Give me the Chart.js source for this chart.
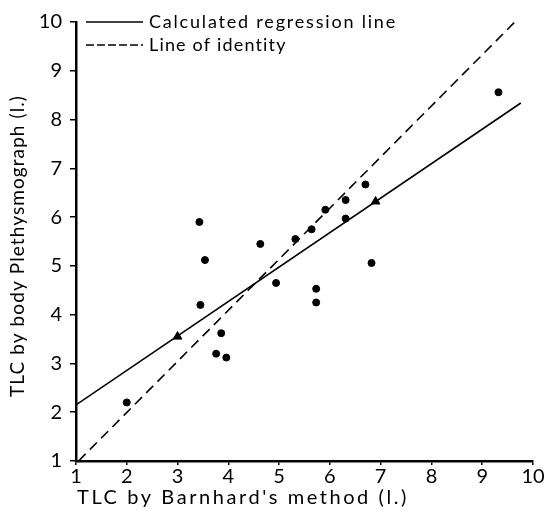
<!DOCTYPE html>
<html lang="en">
  <head>
    <meta charset="UTF-8" />
    <title>TLC comparison</title>
    <script src="https://cdn.jsdelivr.net/npm/chart.js@4.4.1/dist/chart.umd.min.js"></script>
    <style>
      body { margin: 0; background: #fff; }
      #wrap { width: 547px; height: 511px; }
    </style>
  </head>
  <body>
    <div id="wrap"><canvas id="tlcChart" width="547" height="511"></canvas></div>
    <script>
      // axis ticks
      const xTicks = [1, 2, 3, 4, 5, 6, 7, 8, 9, 10];
      const yTicks = [1, 2, 3, 4, 5, 6, 7, 8, 9, 10];

      // individual subjects (dots)
      const dotX = [2.0, 3.43, 3.54, 3.45, 3.86, 3.76, 3.96, 4.63, 4.94, 5.32, 5.64, 5.91, 6.31, 6.31, 6.70, 9.32, 6.82, 5.73, 5.73];
      const dotY = [2.2, 5.9, 5.12, 4.2, 3.62, 3.2, 3.12, 5.45, 4.65, 5.55, 5.75, 6.15, 6.35, 5.97, 6.67, 8.56, 5.06, 4.53, 4.25];

      // triangles
      const triX = [3.0, 6.9];
      const triY = [3.55, 6.32];

      // lines
      const regX = [1, 9.76];
      const regY = [2.15, 8.34];
      const idX = [1.05, 9.7];
      const idY = [1.0, 10.06];

      const labels = ['Calculated regression line', 'Line of identity'];
      const xTitle = "TLC by Barnhard's method (l.)";
      const yTitle = 'TLC by body Plethysmograph (l.)';

      const pts = (xs, ys) => xs.map((x, i) => ({ x: x, y: ys[i] }));
      const FONT = 'Lato';

      // spread text out to a wanted width (the original type is wide)
      function spacedText(ctx, text, x, y, width) {
        ctx.letterSpacing = '0px';
        const w = ctx.measureText(text).width;
        const sp = Math.max(0, (width - w) / text.length);
        ctx.letterSpacing = sp + 'px';
        ctx.fillText(text, x, y);
        ctx.letterSpacing = '0px';
      }

      // legend inside the plot and the two axis titles
      const textPlugin = {
        id: 'texts',
        afterDraw(chart) {
          const ctx = chart.ctx;
          const a = chart.chartArea;
          ctx.save();
          ctx.strokeStyle = '#000';
          ctx.fillStyle = '#000';
          ctx.lineWidth = 1.6;
          ctx.font = '18px ' + FONT;
          ctx.textBaseline = 'middle';
          ctx.textAlign = 'left';
          const rows = [
            { y: a.top, dash: [], text: labels[0], w: 248 },
            { y: a.top + 23, dash: [8, 3], text: labels[1], w: 138 }
          ];
          rows.forEach(r => {
            ctx.setLineDash(r.dash);
            ctx.beginPath();
            ctx.moveTo(a.left + 10, r.y);
            ctx.lineTo(a.left + 67, r.y);
            ctx.stroke();
            spacedText(ctx, r.text, a.left + 73, r.y, r.w);
          });

          ctx.font = '20px ' + FONT;
          spacedText(ctx, xTitle, a.left + 1, a.bottom + 37, 332);

          ctx.translate(a.left - 58, a.bottom - 64);
          ctx.rotate(-Math.PI / 2);
          ctx.font = '19px ' + FONT;
          spacedText(ctx, yTitle, 0, 0, 302);
          ctx.restore();
        }
      };

      const ctx = document.getElementById('tlcChart').getContext('2d');
      new Chart(ctx, {
        type: 'scatter',
        data: {
          datasets: [
            {
              label: labels[0],
              data: pts(regX, regY),
              showLine: true,
              borderColor: '#000',
              borderWidth: 1.6,
              pointRadius: 0
            },
            {
              label: labels[1],
              data: pts(idX, idY),
              showLine: true,
              borderColor: '#000',
              borderWidth: 1.6,
              borderDash: [10, 6],
              pointRadius: 0
            },
            {
              label: 'subjects',
              data: pts(dotX, dotY),
              backgroundColor: '#000',
              borderColor: '#000',
              pointRadius: 3.5
            },
            {
              label: 'triangles',
              data: pts(triX, triY),
              pointStyle: 'triangle',
              backgroundColor: '#000',
              borderColor: '#000',
              pointRadius: 5
            }
          ]
        },
        options: {
          responsive: false,
          animation: false,
          layout: { padding: { top: 22, right: 14, left: 0, bottom: 0 } },
          plugins: { legend: { display: false }, tooltip: { enabled: false } },
          scales: {
            x: {
              type: 'linear',
              min: 1,
              max: 10,
              afterBuildTicks: s => { s.ticks = xTicks.map(v => ({ value: v })); },
              afterFit: s => { s.height = 50; },
              border: { color: '#000', width: 2.5 },
              grid: { drawOnChartArea: false, color: '#000', lineWidth: 1.5, tickLength: 4 },
              ticks: { color: '#000', font: { family: FONT, size: 20 }, padding: 0 },
              title: { display: false }
            },
            y: {
              type: 'linear',
              min: 1,
              max: 10,
              afterBuildTicks: s => { s.ticks = yTicks.map(v => ({ value: v })); },
              afterFit: s => { s.width = 76; },
              border: { color: '#000', width: 2.5 },
              grid: { drawOnChartArea: false, color: '#000', lineWidth: 1.5, tickLength: 6 },
              ticks: { color: '#000', font: { family: FONT, size: 20 }, padding: 8 },
              title: { display: false }
            }
          }
        },
        plugins: [textPlugin]
      });
    </script>
  </body>
</html>
